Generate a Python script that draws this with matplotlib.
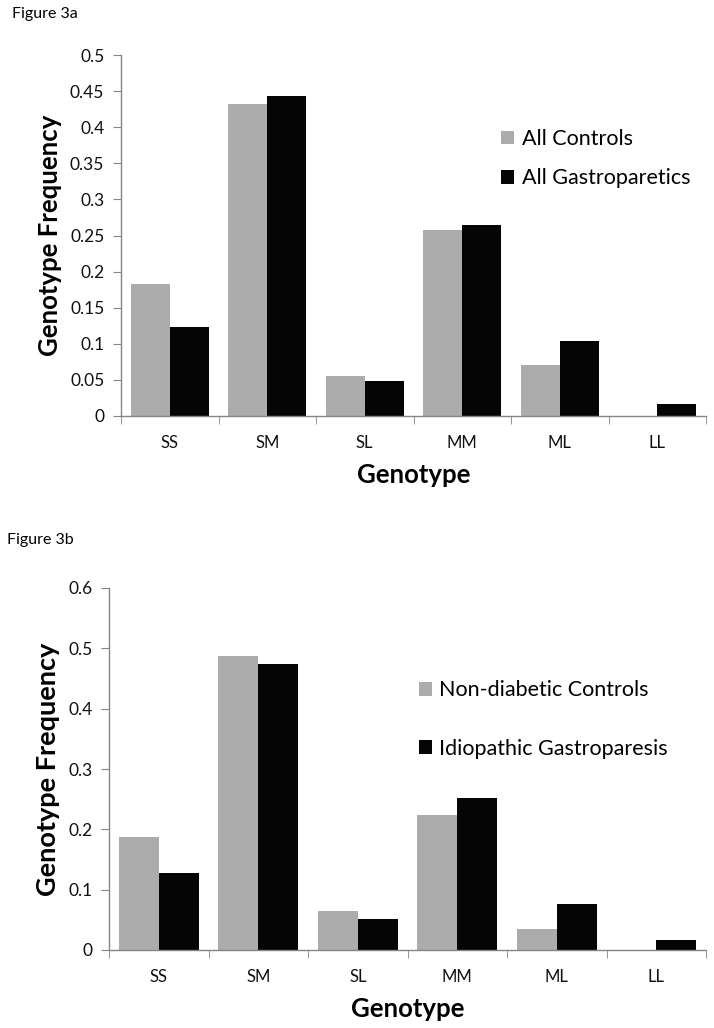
"""Genotype frequency bar charts (Figure 3a / 3b)."""

import matplotlib

matplotlib.use("Agg")
import matplotlib.pyplot as plt
import numpy as np

plt.rcParams["font.family"] = ["Lato", "DejaVu Sans"]

genotypes = ["SS", "SM", "SL", "MM", "ML", "LL"]

# Figure 3a
all_controls = [0.183, 0.432, 0.056, 0.258, 0.071, 0.0]
all_gastroparetics = [0.123, 0.443, 0.049, 0.265, 0.104, 0.017]
labels_a = ["All Controls", "All Gastroparetics"]
yticks_a = [0, 0.05, 0.1, 0.15, 0.2, 0.25, 0.3, 0.35, 0.4, 0.45, 0.5]
yticklabels_a = ["0", "0.05", "0.1", "0.15", "0.2", "0.25", "0.3", "0.35", "0.4", "0.45", "0.5"]

# Figure 3b
nondiabetic_controls = [0.188, 0.488, 0.064, 0.223, 0.035, 0.0]
idiopathic_gp = [0.127, 0.474, 0.051, 0.252, 0.076, 0.017]
labels_b = ["Non-diabetic Controls", "Idiopathic Gastroparesis"]
yticks_b = [0, 0.1, 0.2, 0.3, 0.4, 0.5, 0.6]
yticklabels_b = ["0", "0.1", "0.2", "0.3", "0.4", "0.5", "0.6"]

GRAY = "#acacac"
BLACK = "#050505"
AXIS = "#858585"

W, H = 714, 1028
fig = plt.figure(figsize=(W / 100, H / 100), dpi=100)


def px_axes(left, top, right, bottom):
    return fig.add_axes([left / W, 1 - bottom / H, (right - left) / W, (bottom - top) / H])


def draw_panel(ax, s1, s2, labels, yticks, yticklabels, legend_xy, spacing, label_size):
    x = np.arange(len(genotypes))
    w = 0.4
    ax.bar(x - w / 2, s1, width=w, color=GRAY, label=labels[0])
    ax.bar(x + w / 2, s2, width=w, color=BLACK, label=labels[1])
    ax.set_xlim(-0.5, len(genotypes) - 0.5)
    ax.set_ylim(yticks[0], yticks[-1])
    ax.set_yticks(yticks)
    ax.set_yticklabels(yticklabels, fontsize=12.5, color="#111111")
    ax.set_xticks(x)
    ax.set_xticklabels(genotypes, fontsize=12, color="#111111")
    ax.set_xticks(np.arange(-0.5, len(genotypes) + 0.5, 1.0), minor=True)
    ax.tick_params(axis="x", which="major", length=0, pad=14)
    ax.tick_params(axis="x", which="minor", length=6, color=AXIS, direction="out")
    ax.tick_params(axis="y", length=6, color=AXIS, pad=6)
    for side in ("top", "right"):
        ax.spines[side].set_visible(False)
    for side in ("left", "bottom"):
        ax.spines[side].set_color(AXIS)
        ax.spines[side].set_linewidth(1.0)
    ax.set_xlabel("Genotype", fontsize=18.5, fontweight="bold", labelpad=8)
    ax.set_ylabel("Genotype Frequency", fontsize=label_size, fontweight="bold", labelpad=6)
    ax.legend(
        loc="upper left",
        bbox_to_anchor=legend_xy,
        frameon=False,
        fontsize=15.5,
        handlelength=0.6,
        handleheight=0.6,
        handletextpad=0.35,
        borderpad=0,
        borderaxespad=0,
        labelspacing=spacing,
    )


ax_a = px_axes(121, 55, 706, 416)
draw_panel(ax_a, all_controls, all_gastroparetics, labels_a, yticks_a, yticklabels_a,
           (0.65, 0.795), 0.9, 18.5)

ax_b = px_axes(109, 588, 706, 950)
draw_panel(ax_b, nondiabetic_controls, idiopathic_gp, labels_b, yticks_b, yticklabels_b,
           (0.519, 0.745), 1.78, 19.5)

fig.text(12 / W, 1 - 14 / H, "Figure 3a", fontsize=11.5, va="center", ha="left")
fig.text(7 / W, 1 - 540 / H, "Figure 3b", fontsize=11.5, va="center", ha="left")

fig.savefig("out.png", dpi=100, facecolor="white")
